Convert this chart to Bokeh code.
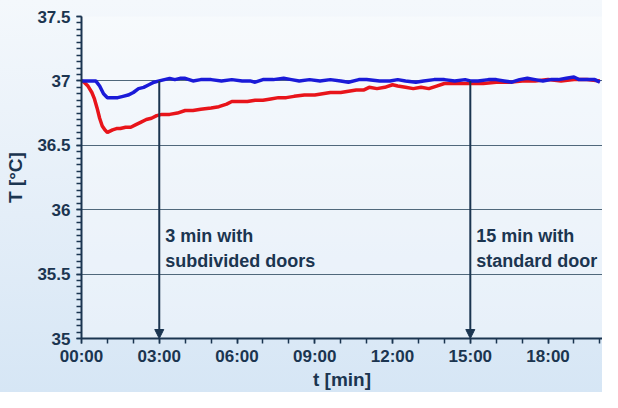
from bokeh.plotting import figure
from bokeh.models import FixedTicker, Arrow, NormalHead, Label
from bokeh.embed import file_html
from bokeh.resources import INLINE

# time in minutes, temperature in °C
blue_t = [0.0, 0.2, 0.4, 0.55, 0.7, 0.85, 1.0, 1.2, 1.4, 1.6, 1.8, 2.0, 2.2, 2.4, 2.6, 2.8, 3.0, 3.2, 3.4,
          3.6, 3.8, 4.0, 4.3, 4.6, 5.0, 5.4, 5.8, 6.2, 6.5, 6.7, 7.0, 7.4, 7.8, 8.1, 8.4, 8.8, 9.2, 9.6,
          10.0, 10.3, 10.7, 11.0, 11.5, 11.9, 12.2, 12.5, 12.9, 13.2, 13.6, 14.0, 14.4, 14.8, 15.0, 15.3,
          15.7, 16.0, 16.3, 16.6, 16.9, 17.2, 17.5, 17.8, 18.1, 18.4, 18.7, 19.0, 19.2, 19.5, 19.8, 20.0]
blue_v = [37.00, 37.00, 37.00, 37.00, 36.96, 36.90, 36.87, 36.87, 36.87, 36.88, 36.89, 36.91, 36.94, 36.95,
          36.97, 36.99, 37.00, 37.01, 37.02, 37.01, 37.02, 37.02, 37.00, 37.01, 37.01, 37.00, 37.01, 37.00,
          37.00, 36.99, 37.01, 37.01, 37.02, 37.01, 37.00, 37.01, 37.00, 37.01, 37.00, 36.99, 37.01, 37.01,
          37.00, 37.00, 37.01, 37.00, 36.99, 37.00, 37.01, 37.01, 37.00, 37.01, 37.00, 37.00, 37.01, 37.01,
          37.00, 36.99, 37.01, 37.02, 37.01, 37.00, 37.01, 37.01, 37.02, 37.03, 37.01, 37.01, 37.01, 36.99]

red_t = [0.0, 0.1, 0.25, 0.4, 0.5, 0.6, 0.7, 0.8, 0.9, 1.0, 1.1, 1.2, 1.35, 1.5, 1.7, 1.9, 2.1, 2.3, 2.5,
         2.7, 2.9, 3.1, 3.4, 3.7, 4.0, 4.3, 4.6, 5.0, 5.3, 5.6, 5.8, 6.1, 6.4, 6.7, 7.0, 7.3, 7.6, 7.9,
         8.2, 8.6, 9.0, 9.3, 9.6, 10.0, 10.3, 10.6, 10.9, 11.1, 11.4, 11.7, 12.0, 12.2, 12.5, 12.8, 13.1,
         13.4, 13.7, 14.0, 14.5, 15.0, 15.5, 16.0, 16.5, 17.0, 17.5, 18.0, 18.5, 19.0, 19.5, 20.0]
red_v = [37.00, 36.99, 36.96, 36.91, 36.86, 36.79, 36.71, 36.65, 36.62, 36.60, 36.61, 36.62, 36.63, 36.63,
         36.64, 36.64, 36.66, 36.68, 36.70, 36.71, 36.73, 36.74, 36.74, 36.75, 36.77, 36.77, 36.78, 36.79,
         36.80, 36.82, 36.84, 36.84, 36.84, 36.85, 36.85, 36.86, 36.87, 36.87, 36.88, 36.89, 36.89, 36.90,
         36.91, 36.91, 36.92, 36.93, 36.93, 36.95, 36.94, 36.95, 36.97, 36.96, 36.95, 36.94, 36.95, 36.94,
         36.96, 36.98, 36.98, 36.98, 36.98, 36.99, 36.99, 37.00, 37.00, 37.01, 37.00, 37.01, 37.01, 37.00]

x_ticks = [0, 3, 6, 9, 12, 15, 18]
x_labels = ["00:00", "03:00", "06:00", "09:00", "12:00", "15:00", "18:00"]
y_ticks = [35, 35.5, 36, 36.5, 37, 37.5]
y_labels = ["35", "35.5", "36", "36.5", "37", "37.5"]

marker_t = [3, 15]
marker_text = [["3 min with", "subdivided doors"], ["15 min with", "standard door"]]

INK = "#1b3550"
FONT = "Liberation Sans"

p = figure(width=602, height=392, output_backend="svg", toolbar_location=None,
           x_range=(0, 20.1), y_range=(35, 37.5),
           min_border_left=81, min_border_right=0, min_border_top=16, min_border_bottom=46)
p.styles = {"background": "linear-gradient(180deg, #f4f8fc 0%, #e4eef8 55%, #d6e6f5 100%)"}
p.border_fill_alpha = 0
p.background_fill_color = "white"
p.background_fill_alpha = 0.35
p.outline_line_color = None

# axes
p.xaxis.ticker = FixedTicker(ticks=x_ticks, minor_ticks=list(range(0, 21)))
p.xaxis.major_label_overrides = dict(zip(x_ticks, x_labels))
p.yaxis.ticker = FixedTicker(ticks=y_ticks, minor_ticks=[35 + 0.05 * i for i in range(51)])
p.yaxis.major_label_overrides = dict(zip(y_ticks, y_labels))
for ax in (p.xaxis[0], p.yaxis[0]):
    ax.axis_line_color = INK
    ax.axis_line_width = 2
    ax.major_tick_line_color = INK
    ax.minor_tick_line_color = INK
    ax.major_tick_line_width = 1.5
    ax.minor_tick_line_width = 1.5
    ax.major_tick_in = 0
    ax.major_tick_out = 5
    ax.minor_tick_in = 0
    ax.minor_tick_out = 5
    ax.major_label_text_font = FONT
    ax.major_label_text_font_style = "bold"
    ax.major_label_text_font_size = "17px"
    ax.major_label_text_color = INK
    ax.axis_label_text_font = FONT
    ax.axis_label_text_font_style = "bold"
    ax.axis_label_text_font_size = "19px"
    ax.axis_label_text_color = INK
p.xaxis.axis_label = "t [min]"
p.yaxis.axis_label = "T [°C]"
p.xaxis.major_label_standoff = 3
p.yaxis.major_label_standoff = 6
p.xaxis.axis_label_standoff = 0
p.yaxis.axis_label_standoff = 8

p.xgrid.grid_line_color = None
p.ygrid.ticker = FixedTicker(ticks=y_ticks)
p.ygrid.grid_line_color = "#50687b"
p.ygrid.grid_line_width = 1.2

# series
p.line(red_t, red_v, line_color="#e8141a", line_width=3.5)
p.line(blue_t, blue_v, line_color="#1a1ad8", line_width=3.5)

# markers with arrows and notes
for t, lines in zip(marker_t, marker_text):
    p.add_layout(Arrow(x_start=t, y_start=37.0, x_end=t, y_end=35.0, line_color=INK, line_width=2,
                       end=NormalHead(size=9, line_color=INK, fill_color=INK)))
    for i, s in enumerate(lines):
        p.add_layout(Label(x=t, y=35.795, x_offset=6, y_offset=-25 * i, text=s,
                           text_font=FONT, text_font_style="bold", text_font_size="18px",
                           text_color=INK, text_baseline="alphabetic"))

open("out.html", "w").write(file_html(p, INLINE))
